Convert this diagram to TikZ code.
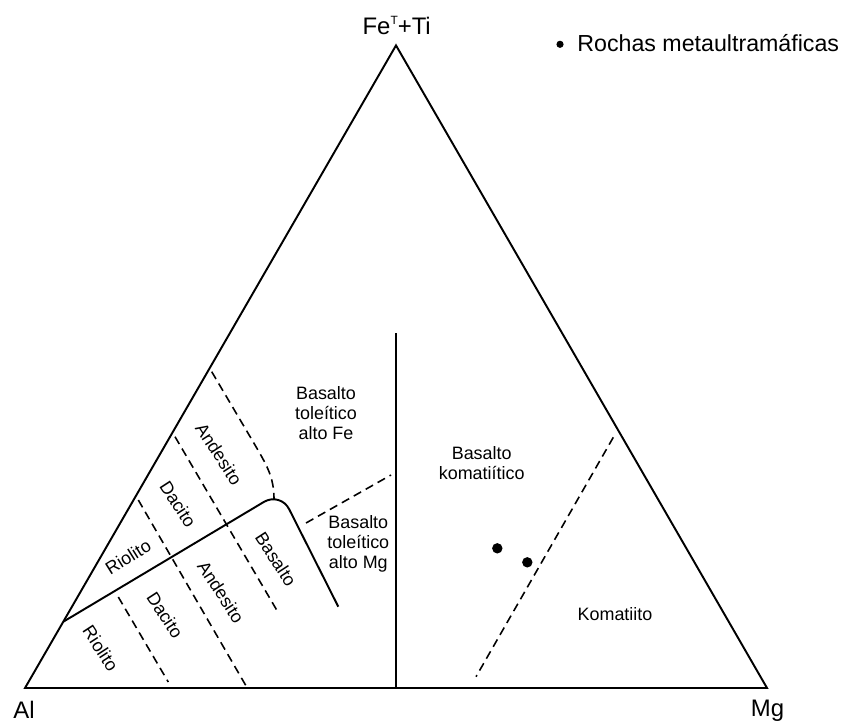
\documentclass[tikz,border=0pt]{standalone}
\usepackage{fontspec}
\setmainfont{Liberation Sans}
\usepackage{tikz}
\usetikzlibrary{calc}

\tikzset{
    field/.style={font=\fontsize{5.1}{5.7}\selectfont, align=center, inner sep=0pt},
    tilted/.style={field, rotate=-57},
    vertexlabel/.style={font=\fontsize{6.8}{8}\selectfont, inner sep=0pt},
    boundary/.style={line width=0.45pt, dash pattern=on 2.4pt off 1.5pt},
    solidline/.style={line width=0.55pt},
}

\begin{document}
\begin{tikzpicture}
            \useasboundingbox (-0.25,-0.36) rectangle (8.22,6.88);
            % vertices of the cation plot
            \coordinate (al) at (0,0);
            \coordinate (mg) at (7.42,0);
            \coordinate (fe) at (60:7.42);
            \draw[solidline] (al)--(mg)--(fe)--cycle;
            \node[vertexlabel, anchor=base] (allabel) at (-0.01,-0.30) {Al};
            \node[vertexlabel, anchor=base] (mglabel) at (7.425,-0.28) {Mg};
            \node[vertexlabel, anchor=base] (felabel) at (3.717,6.537) {Fe\raisebox{0.75ex}{\fontsize{3.4}{4}\selectfont T}+Ti};
            % legend
            \fill (5.35,6.437) circle(0.036);
            \node[vertexlabel, anchor=base west, font=\fontsize{6.6}{8}\selectfont] (legend) at (5.517,6.363) {Rochas metaultramáficas};
            % solid boundaries
            \coordinate (mid) at (3.71,0);
            \coordinate (midtop) at (3.71,3.547);
            \draw[solidline] (mid)--(midtop);
            \coordinate (caleft) at (0.383,0.663);
            \coordinate (cabend) at (2.555,1.96);
            \coordinate (caend) at (3.133,0.813);
            \draw[solidline, rounded corners=5.5pt] (caleft)--(cabend)--(caend);
            % dashed boundaries
            \draw[boundary] (1.867,3.163)--(2.30,2.43) to[out=-60,in=90] (2.49,1.89);
            \draw[boundary] (1.50,2.513)--(2.517,0.78);
            \draw[boundary] (1.133,1.88)--(2.217,0.01);
            \draw[boundary] (0.933,0.91)--(1.433,0.06);
            \draw[boundary] (2.81,1.65)--(3.66,2.13);
            \draw[boundary] (5.883,2.507)--(4.51,0.113);
            % samples
            \fill (4.723,1.397) circle(0.052);
            \fill (5.023,1.257) circle(0.052);
            % fields
            \node[tilted] (and1) at (1.94,2.34) {Andesito};
            \node[tilted] (dac1) at (1.53,1.84) {Dacito};
            \node[field, rotate=32] (rio1) at (1.03,1.31) {Riolito};
            \node[tilted] (rio2) at (0.757,0.397) {Riolito};
            \node[tilted] (dac2) at (1.40,0.73) {Dacito};
            \node[tilted] (and2) at (1.96,0.96) {Andesito};
            \node[tilted] (bas) at (2.51,1.287) {Basalto};
            \node[field] (thfe) at (3.01,2.753) {Basalto\\toleítico\\alto Fe};
            \node[field] (thmg) at (3.333,1.437) {Basalto\\toleítico\\alto Mg};
            \node[field] (bk) at (4.567,2.253) {Basalto\\komatiítico};
            \node[field] (kom) at (5.90,0.74) {Komatiito};
\end{tikzpicture}
\end{document}
